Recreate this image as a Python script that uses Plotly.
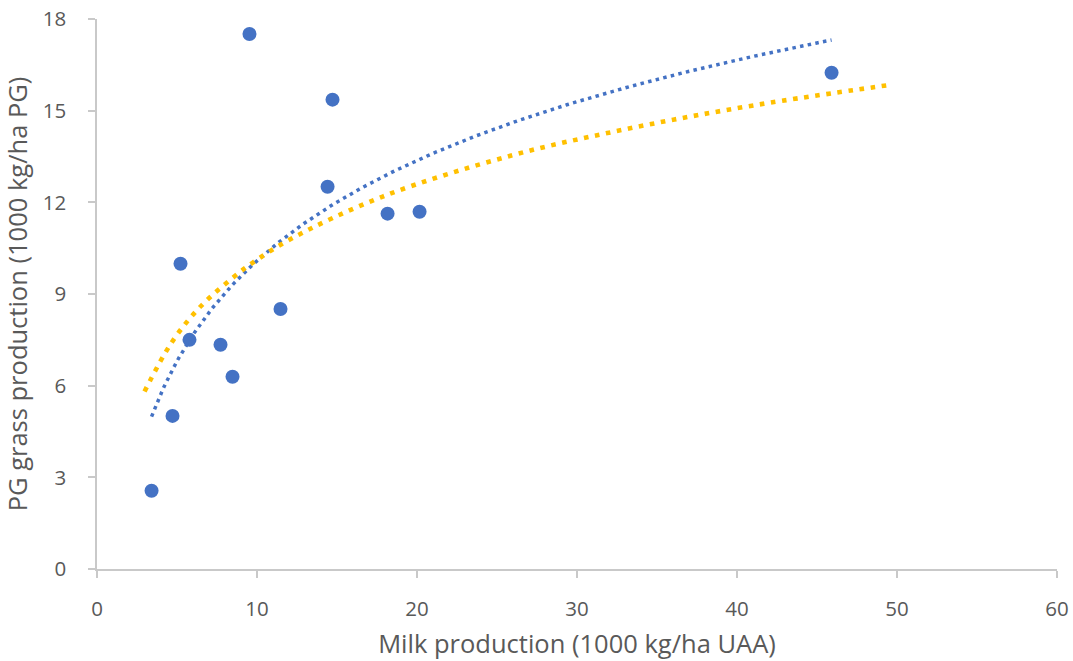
import numpy as np
import plotly.graph_objects as go

# Observed farms (blue markers)
milk = [3.41, 4.72, 5.22, 5.78, 7.72, 8.47, 9.53, 11.47, 14.41, 14.72, 18.16, 20.16, 45.91]
grass = [2.56, 5.01, 9.99, 7.50, 7.34, 6.29, 17.51, 8.51, 12.51, 15.36, 11.63, 11.69, 16.24]

# Reference trend curve (yellow dotted)
ref_x = [2.97, 4.70, 6.47, 8.58, 9.72, 12.11, 17.86, 25.95, 33.57, 41.24, 49.66]
ref_y = [5.81, 7.44, 8.59, 9.57, 10.02, 10.80, 12.19, 13.54, 14.45, 15.19, 15.85]

x_ticks = [0, 10, 20, 30, 40, 50, 60]
y_ticks = [0, 3, 6, 9, 12, 15, 18]

x_title = "Milk production (1000 kg/ha UAA)"
y_title = "PG grass production (1000 kg/ha PG)"

BLUE = "#4472C4"
GOLD = "#FFC000"
TXT = "#595959"
AXC = "#C9C9C9"
FONT = "Open Sans"

# Logarithmic trendline fitted to the blue data (as Excel does)
slope, intercept = np.polyfit(np.log(milk), grass, 1)
tx = np.linspace(min(milk), max(milk), 300)
ty = slope * np.log(tx) + intercept

fig = go.Figure()
fig.add_trace(go.Scatter(
    x=milk, y=grass, mode="markers",
    marker=dict(color=BLUE, size=14, line=dict(width=0)),
))
fig.add_trace(go.Scatter(
    x=tx, y=ty, mode="lines",
    line=dict(color=BLUE, width=3.5, dash="3.5px,4.3px"),
))
fig.add_trace(go.Scatter(
    x=ref_x, y=ref_y, mode="lines",
    line=dict(color=GOLD, width=4.6, dash="4.6px,6.6px", shape="spline", smoothing=1.0),
))

axis_common = dict(
    showgrid=False, zeroline=False, automargin=False,
    showline=True, linecolor=AXC, linewidth=1.5,
    ticks="outside", ticklen=7, tickwidth=1.5, tickcolor=AXC,
    tickfont=dict(family=FONT, size=20.5, color=TXT),
)

fig.update_layout(
    width=1073, height=661,
    margin=dict(l=97, r=16, t=19, b=92),
    paper_bgcolor="white", plot_bgcolor="white",
    showlegend=False,
    xaxis=dict(
        range=[0, 60], tickvals=x_ticks, ticktext=[str(v) for v in x_ticks],
        title=dict(text=x_title, font=dict(family=FONT, size=25.5, color=TXT), standoff=14),
        ticklabelstandoff=14,
        **axis_common,
    ),
    yaxis=dict(
        range=[0, 18], tickvals=y_ticks, ticktext=[str(v) for v in y_ticks],
        title=dict(text=y_title, font=dict(family=FONT, size=25.5, color=TXT), standoff=8),
        ticklabelstandoff=18,
        **axis_common,
    ),
)

fig.write_html("out.html")
